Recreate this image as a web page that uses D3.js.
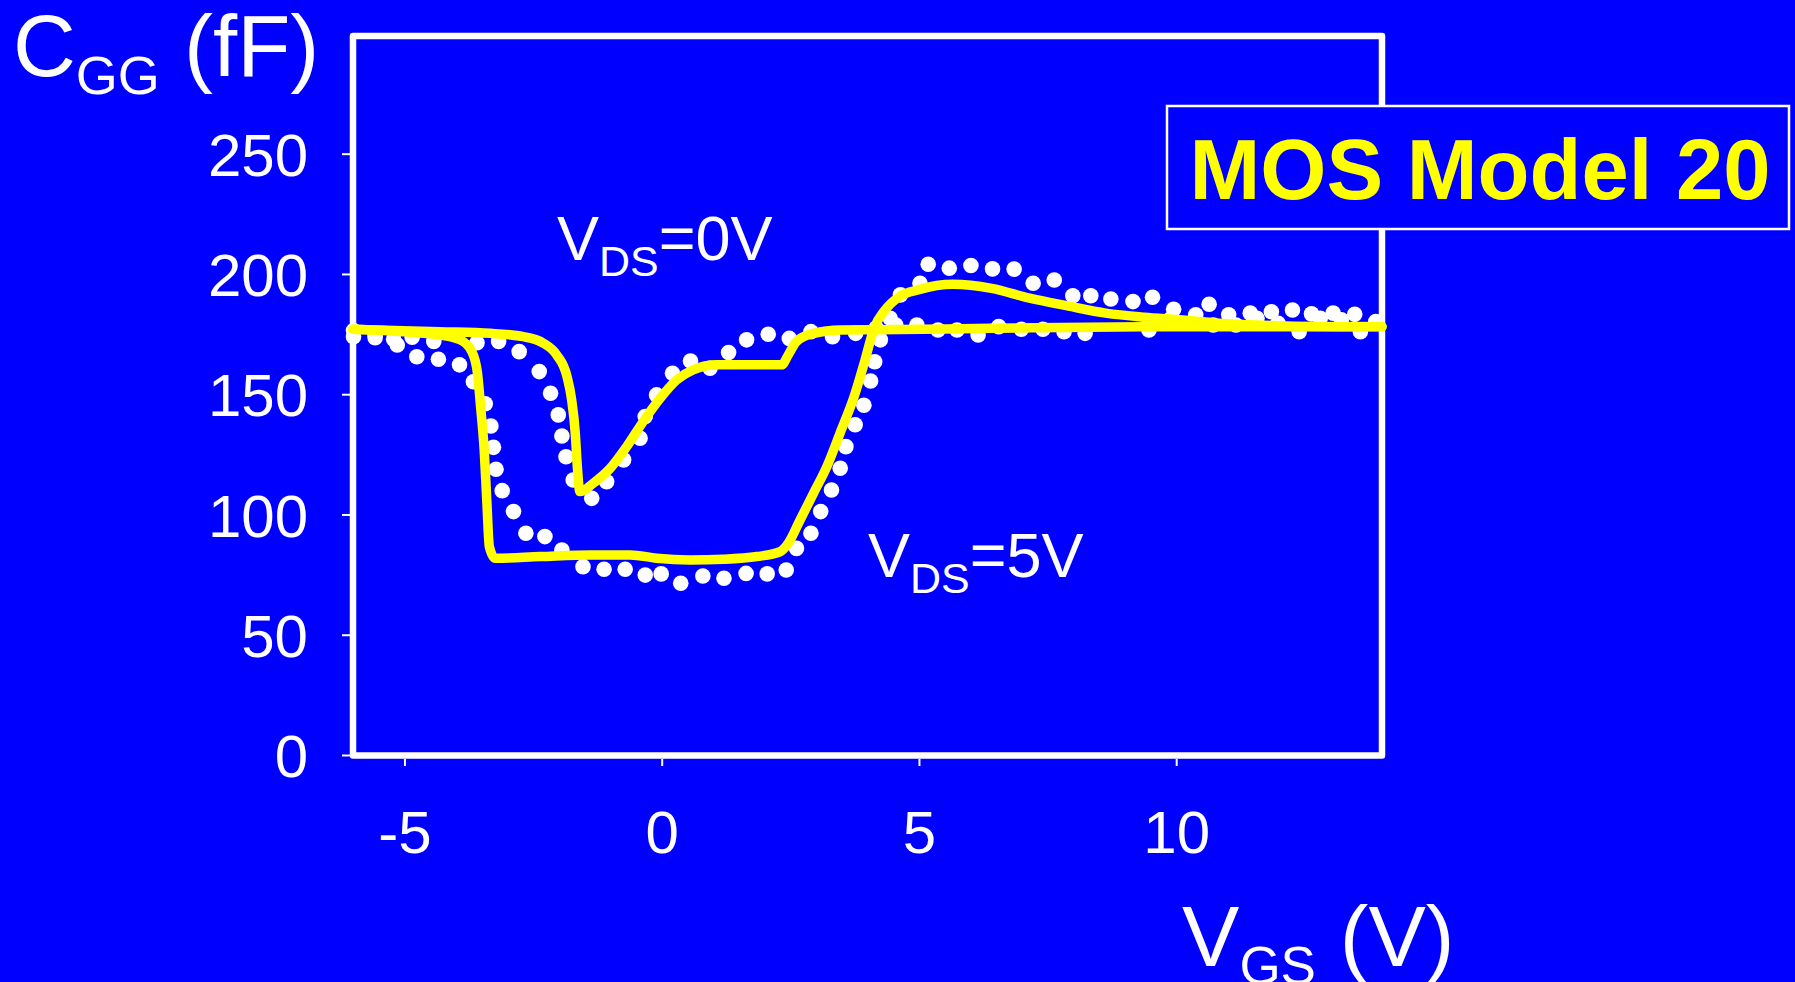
<!DOCTYPE html>
<html>
<head>
<meta charset="utf-8">
<script src="https://cdn.jsdelivr.net/npm/d3@7"></script>
<style>
  html, body { margin: 0; padding: 0; background: #0000ff; overflow: hidden; }
  svg { display: block; }
  text { font-family: "Liberation Sans", Arial, Helvetica, sans-serif; }
</style>
</head>
<body>
<svg id="chart" width="1795" height="982"></svg>
<script>
// Measured C_GG (dots), V_DS = 0 V
const vgsMeas0 = [-5.99, -5.57, -5.21, -4.85, -4.43, -3.59, -3.17, -2.77, -2.38, -2.16, -2.01, -1.94, -1.86, -1.72, -1.36, -1.07, -0.74, -0.42, -0.32, -0.10, 0.21, 0.56, 0.94, 1.30, 1.65, 2.07, 2.48, 2.90, 3.32, 3.77, 4.17, 4.55, 4.96, 5.37, 5.74, 6.15, 6.55, 6.99, 7.41, 7.82, 8.23, 9.47, 9.89, 10.38, 10.72, 11.16, 11.57, 11.98, 12.39, 12.80, 13.21, 13.58];
const cggMeas0 = [173.9, 174.6, 172.8, 173.7, 171.9, 171.4, 171.9, 167.7, 159.4, 150.4, 141.4, 132.6, 124.0, 114.3, 106.7, 113.6, 122.7, 131.7, 140.7, 149.7, 158.7, 163.8, 160.8, 167.3, 172.6, 174.9, 173.2, 176.0, 173.9, 175.3, 177.5, 178.8, 178.8, 176.7, 176.7, 174.6, 178.1, 177.0, 177.0, 176.0, 175.3, 176.7, 181.3, 183.0, 178.8, 178.8, 181.6, 179.5, 176.0, 181.6, 180.9, 176.0];

// Measured C_GG (dots), V_DS = 5 V
const vgsMeas5 = [-5.99, -5.57, -5.14, -4.76, -4.34, -3.93, -3.66, -3.43, -3.32, -3.27, -3.22, -3.10, -2.88, -2.64, -2.27, -1.94, -1.53, -1.12, -0.71, -0.32, -0.01, 0.37, 0.80, 1.21, 1.64, 2.05, 2.42, 2.62, 2.90, 3.09, 3.30, 3.47, 3.58, 3.76, 3.93, 4.06, 4.14, 4.25, 4.44, 4.64, 5.02, 5.18, 5.59, 6.01, 6.43, 6.85, 7.22, 7.63, 7.99, 8.34, 8.73, 9.16, 9.54, 9.95, 10.64, 11.02, 11.44, 11.85, 12.26, 12.63, 13.05, 13.47, 13.88];
const cggMeas5 = [176.5, 173.5, 170.5, 165.6, 164.5, 162.2, 155.2, 146.0, 136.8, 127.9, 118.8, 109.9, 101.2, 92.2, 90.8, 85.2, 78.3, 77.2, 77.2, 74.8, 75.3, 71.4, 74.4, 73.5, 75.5, 75.3, 76.9, 85.9, 92.2, 101.2, 110.2, 119.2, 128.2, 137.3, 145.4, 155.5, 163.5, 172.6, 181.6, 191.3, 196.1, 204.0, 202.4, 203.5, 202.1, 202.0, 196.1, 197.5, 190.9, 190.9, 189.6, 188.5, 190.3, 185.3, 187.4, 183.0, 183.7, 184.3, 185.0, 183.4, 183.7, 183.2, 180.2];

// MOS Model 20 simulation (lines), V_DS = 0 V
const vgsModel0 = [-6, -4.31, -3.33, -2.69, -2.30, -2.04, -1.84, -1.75, -1.68, -1.64, -1.59, -1.33, -1.00, -0.68, -0.36, -0.03, 0.29, 0.61, 1.07, 1.85, 2.33, 2.46, 2.62, 2.95, 3.47, 4.17, 6.41, 9.38, 14];
const cggModel0 = [177, 176, 175.3, 173.9, 171.2, 166.3, 157.3, 147.6, 133.8, 119.9, 109.5, 113, 119.2, 128.2, 138.6, 148.3, 155.9, 160.1, 162.2, 162.2, 162.2, 166.3, 171.9, 175.3, 176.7, 176.8, 177.4, 178, 178.1];

// MOS Model 20 simulation (lines), V_DS = 5 V
const vgsModel5 = [-6, -4.31, -3.92, -3.69, -3.58, -3.52, -3.45, -3.40, -3.35, -3.24, -2.36, -1.39, -0.61, -0.10, 0.55, 1.20, 1.85, 2.30, 2.46, 2.69, 2.95, 3.21, 3.47, 3.74, 3.95, 4.13, 4.33, 4.62, 5.00, 5.66, 6.41, 7.15, 7.89, 8.63, 9.38, 10.12, 10.83, 12.14, 14];
const cggModel5 = [177, 174.6, 172.6, 167.7, 158.7, 144.8, 126.8, 106, 86.6, 81.8, 82.5, 83.2, 83.2, 81.8, 81.1, 81.4, 82.5, 84.5, 88, 97.7, 108.8, 119.9, 134, 149, 164, 177.6, 184.7, 190.6, 193.5, 195.7, 194, 189.9, 186.7, 183.7, 182, 180.9, 179.5, 178.4, 178];

const xTicks = [-5, 0, 5, 10];
const yTicks = [0, 50, 100, 150, 200, 250];
const modelName = "MOS Model 20";

const svg = d3.select("#chart");
const BLUE = "#0000ff", YELLOW = "#ffff00", WHITE = "#ffffff";

svg.append("rect").attr("width", 1795).attr("height", 982).attr("fill", BLUE);

const x = d3.scaleLinear().domain([-6, 14]).range([353, 1382]);
const y = d3.scaleLinear().domain([0, 300]).range([755, 33.4]);

// plot frame
const frameTop = 36;
svg.append("rect")
  .attr("x", x(-6)).attr("y", frameTop)
  .attr("width", x(14) - x(-6)).attr("height", y(0) - frameTop + 0.5)
  .attr("fill", "none").attr("stroke", WHITE).attr("stroke-width", 6.5)
  .attr("stroke-linejoin", "round");

// y axis
const yAxis = svg.append("g")
  .attr("transform", `translate(${x(-6) - 3},0)`)
  .call(d3.axisLeft(y).tickValues(yTicks).tickSize(8).tickSizeOuter(0).tickPadding(34)
    .tickFormat(d => String(d)));
yAxis.select(".domain").remove();
yAxis.selectAll(".tick line").attr("stroke", WHITE).attr("stroke-width", 2);
yAxis.selectAll(".tick text")
  .attr("fill", WHITE).attr("font-size", 60).attr("dy", "0.36em")
  .attr("font-family", "Liberation Sans, Arial, sans-serif");

// x axis (plain hyphen for negative labels)
const xAxis = svg.append("g")
  .attr("transform", `translate(0,${y(0) + 4})`)
  .call(d3.axisBottom(x).tickValues(xTicks).tickSize(7).tickSizeOuter(0)
    .tickFormat(d => String(d)));
xAxis.select(".domain").remove();
xAxis.selectAll(".tick line").attr("stroke", WHITE).attr("stroke-width", 2);
xAxis.selectAll(".tick text")
  .attr("fill", WHITE).attr("font-size", 60).attr("y", 94).attr("dy", 0)
  .attr("font-family", "Liberation Sans, Arial, sans-serif");

// measured points
const dots = svg.append("g").attr("fill", WHITE);
[[vgsMeas0, cggMeas0], [vgsMeas5, cggMeas5]].forEach(([vx, vy]) => {
  dots.selectAll(null).data(d3.zip(vx, vy)).enter().append("circle")
    .attr("cx", d => x(d[0])).attr("cy", d => y(d[1])).attr("r", 7.8);
});

// model curves
const line = d3.line().x(d => x(d[0])).y(d => y(d[1])).curve(d3.curveMonotoneX);
[[vgsModel0, cggModel0], [vgsModel5, cggModel5]].forEach(([vx, vy]) => {
  svg.append("path").datum(d3.zip(vx, vy))
    .attr("d", line).attr("fill", "none")
    .attr("stroke", YELLOW).attr("stroke-width", 9.5)
    .attr("stroke-linecap", "round").attr("stroke-linejoin", "round");
});

// curve annotations
function subLabel(px, py, main, sub, rest, size, subSize, drop) {
  const t = svg.append("text").attr("x", px).attr("y", py)
    .attr("fill", WHITE).attr("font-size", size);
  t.append("tspan").text(main);
  t.append("tspan").attr("font-size", subSize).attr("dy", drop).text(sub);
  t.append("tspan").attr("dy", -drop).text(rest);
  return t;
}
subLabel(557, 260, "V", "DS", "=0V", 63, 43, 16);
subLabel(868, 577, "V", "DS", "=5V", 63, 43, 16);

// axis titles
subLabel(13, 76, "C", "GG", " (fF)", 87, 54, 18);
subLabel(1182, 966, "V", "GS", " (V)", 86, 53, 18);

// model label box
const box = svg.append("g");
box.append("rect")
  .attr("x", 1167).attr("y", 106).attr("width", 622).attr("height", 123)
  .attr("fill", BLUE).attr("stroke", WHITE).attr("stroke-width", 2.5);
box.append("text")
  .attr("x", 1480).attr("y", 199).attr("text-anchor", "middle")
  .attr("fill", YELLOW).attr("font-size", 85).attr("font-weight", "bold")
  .text(modelName);
</script>
</body>
</html>
